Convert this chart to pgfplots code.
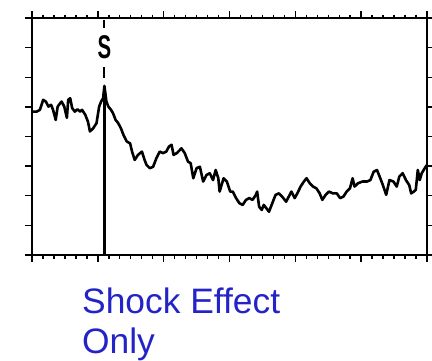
\documentclass[border=0pt]{standalone}
\usepackage{fontspec}
\setmainfont{Liberation Sans}
\usepackage{pgfplots}
\pgfplotsset{compat=1.18}
\definecolor{txtblue}{RGB}{35,35,200}
\begin{document}
\begin{tikzpicture}
\useasboundingbox (-32bp,-106bp) rectangle (400bp,255bp);
\begin{axis}[at={(0,0)}, anchor=south west, scale only axis,
  width=395bp, height=237bp,
  xmin=0, xmax=6, ymin=0, ymax=8,
  xtick={0,1,2,3,4,5,6}, ytick={0,1,2,3,4,5,6,7,8},
  minor x tick num=5,
  xticklabels={}, yticklabels={},
  tick align=outside,
  major tick length=7bp, minor tick length=3.5bp,
  axis line style={line width=2bp},
  every tick/.style={black, line width=1.4bp},
  clip=false]
\addplot[black, line width=2.6bp, line join=round] table {
x y
0.00 4.84
0.07 4.84
0.12 4.90
0.17 5.24
0.21 5.18
0.25 5.01
0.29 5.07
0.32 4.90
0.36 4.56
0.39 5.01
0.43 5.13
0.45 5.18
0.49 5.01
0.53 4.63
0.55 5.24
0.58 5.29
0.61 4.96
0.65 4.84
0.69 4.92
0.73 4.84
0.76 4.90
0.81 4.73
0.85 4.50
0.88 4.17
0.93 4.28
0.98 4.45
1.02 5.01
1.05 5.18
1.08 5.29
1.10 5.71
1.13 5.18
1.16 5.01
1.20 4.90
1.23 4.79
1.27 4.56
1.31 4.45
1.35 4.28
1.39 4.05
1.44 3.83
1.49 3.77
1.52 3.49
1.56 3.21
1.61 3.38
1.67 3.49
1.71 3.21
1.74 3.04
1.79 2.93
1.84 2.98
1.89 3.27
1.94 3.49
1.99 3.44
2.04 3.49
2.08 3.66
2.12 3.72
2.15 3.38
2.20 3.44
2.27 3.60
2.32 3.44
2.37 3.15
2.41 3.10
2.45 2.59
2.50 2.93
2.55 2.98
2.60 2.48
2.65 2.70
2.70 2.76
2.75 2.53
2.79 2.87
2.83 2.59
2.85 2.14
2.91 2.59
2.96 2.48
3.01 2.14
3.05 2.14
3.10 1.92
3.15 1.75
3.20 1.69
3.25 1.86
3.30 1.92
3.35 1.86
3.40 2.03
3.42 2.14
3.45 1.63
3.49 1.52
3.52 1.69
3.56 1.58
3.60 1.46
3.65 1.75
3.70 2.03
3.75 2.08
3.80 1.97
3.86 1.80
3.90 1.97
3.94 2.14
3.99 1.92
4.03 2.08
4.08 2.31
4.13 2.48
4.17 2.59
4.22 2.42
4.27 2.31
4.32 2.25
4.37 2.08
4.41 1.86
4.46 2.03
4.51 2.14
4.57 2.08
4.63 2.08
4.68 1.92
4.73 1.97
4.78 2.14
4.83 2.25
4.87 2.59
4.90 2.31
4.95 2.42
5.02 2.48
5.09 2.48
5.14 2.53
5.19 2.81
5.24 2.87
5.28 2.65
5.33 2.36
5.38 2.03
5.43 2.53
5.49 2.48
5.54 2.31
5.58 2.65
5.63 2.76
5.68 2.53
5.73 2.36
5.76 2.08
5.80 2.14
5.83 2.20
5.86 2.87
5.89 2.53
5.92 2.76
5.95 2.87
5.98 2.98
6.00 3.04
};
\addplot[black, line width=2.4bp] coordinates {(1.10,0) (1.10,5.4)};
\addplot[black, line width=2bp] coordinates {(1.10,5.98) (1.10,6.35)};
\addplot[black, line width=2bp] coordinates {(1.10,7.67) (1.10,7.94)};
\node[xscale=0.62, font=\fontsize{33}{33}\selectfont\bfseries] at (axis cs:1.10,7.03) {S};
\end{axis}
\node[anchor=base west, text=txtblue, font=\fontsize{35.5}{35.5}\selectfont, inner sep=0pt] at (50bp,-58bp) {Shock Effect};
\node[anchor=base west, text=txtblue, font=\fontsize{35.5}{35.5}\selectfont, inner sep=0pt] at (50bp,-98bp) {Only};
\end{tikzpicture}
\end{document}
